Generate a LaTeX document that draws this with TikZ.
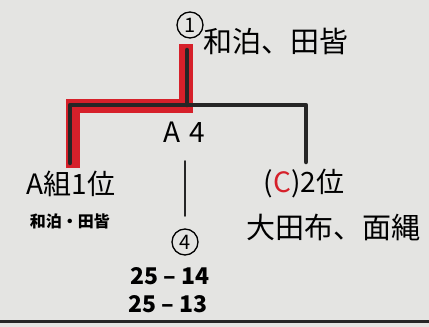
\documentclass[tikz,border=0pt]{standalone}
\usepackage{fontspec}
\setmainfont{Noto Sans CJK JP}
\definecolor{markred}{RGB}{214,32,42}
\definecolor{paper}{RGB}{228,228,226}
\tikzset{
  printed/.style={font=\fontsize{28}{28}\selectfont, inner sep=0pt},
  hand/.style={font=\fontsize{29}{29}\selectfont, inner sep=0pt},
  smallhand/.style={font=\fontsize{16}{16}\selectfont\bfseries, inner sep=0pt},
  score/.style={font=\fontsize{23}{23}\selectfont\bfseries, inner sep=0pt},
  rank/.style={circle, draw, line width=1.3pt, inner sep=0pt, minimum size=26pt, font=\fontsize{20}{20}\selectfont},
  bracket/.style={line width=4.5pt, black!85},
  winner/.style={line width=14pt, markred, line cap=butt, line join=miter}
}
\begin{document}
\begin{tikzpicture}[x=1pt, y=-1pt, line cap=round, line join=round]
    % sheet of paper
    \fill[paper] (0,0) rectangle (429,327);
    \useasboundingbox (0,0) rectangle (429,327);
    \coordinate (edgeL) at (0,321);
    \coordinate (edgeR) at (429,321);
    \draw[line width=3pt, black!85] (edgeL) -- (edgeR); % edge of sheet

    % bracket points
    \coordinate (top) at (187,50);
    \coordinate (join) at (187,105);
    \coordinate (leftEnd) at (70,163);
    \coordinate (rightEnd) at (306,162);
    \coordinate (redTop) at (186,44);
    \coordinate (redJoin) at (186,106);
    \coordinate (redLeft) at (73,168);

    % winner path
    \draw[winner] (redLeft) |- (redJoin) -- (redTop);
    % bracket
    \draw[bracket] (leftEnd) |- (join) -| (rightEnd);
    \draw[bracket] (top) -- (join);

    % winner of final
    \node[rank] (first) at (190,25) {1};
    \node[hand, anchor=west] (champ) at (203,41) {和泊、田皆};

    % match
    \node[printed] (court) at (184,132) {A\,\,4};
    \coordinate (lineTop) at (185,161);
    \coordinate (lineBot) at (185,216);
    \draw[line width=1.8pt, black!85] (lineTop) -- (lineBot);
    \node[rank] (fourth) at (185,242) {4};
    \node[score] (setOne) at (170,276) {25 – 14};
    \node[score] (setTwo) at (168,304) {25 – 13};

    % left side
    \node[printed] (groupA) at (71,184) {A組1位};
    \node[smallhand] (teamA) at (70,221) {和泊・田皆};

    % right side
    \node[printed] (groupC) at (304,184) {(\textcolor{markred}{C})2位};
    \node[hand] (teamC) at (333,227) {大田布、面縄};
\end{tikzpicture}
\end{document}
